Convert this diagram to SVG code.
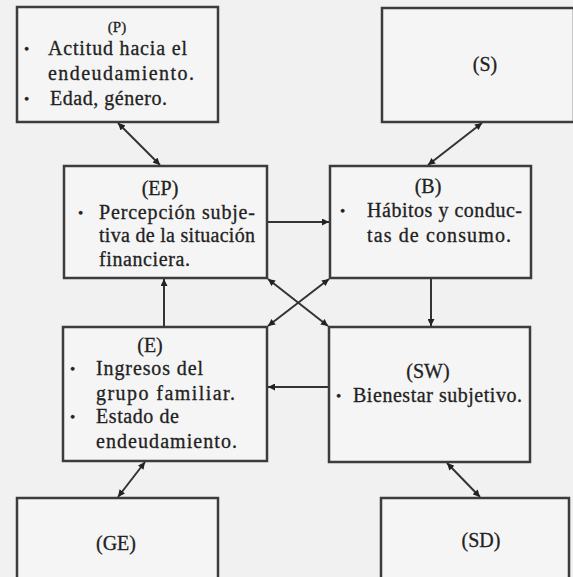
<svg xmlns="http://www.w3.org/2000/svg" width="573" height="577" viewBox="0 0 573 577">
<style>
.box{fill:#f5f5f5;stroke:#3c3c3c;stroke-width:2.5}
.t{font-family:"Liberation Serif","Times New Roman",serif;font-size:20px;fill:#222;stroke:#222;stroke-width:0.3}
.c{text-anchor:middle}
.sm{font-size:15px}
.bu{font-size:15px}
.ln{stroke:#333;stroke-width:2;fill:none}
</style>
<defs>
<marker id="ah" viewBox="0 0 10 10" refX="10" refY="5" markerWidth="8" markerHeight="7" markerUnits="userSpaceOnUse" orient="auto-start-reverse">
<path d="M0,0 L10,5 L0,10 z" fill="#222"/>
</marker>
</defs>
<rect width="573" height="577" fill="#f1f1f1"/>
<g id="connectors">
<line class="ln" x1="118" y1="123" x2="160" y2="165" marker-start="url(#ah)" marker-end="url(#ah)"/>
<line class="ln" x1="482" y1="123" x2="428" y2="165" marker-start="url(#ah)" marker-end="url(#ah)"/>
<line class="ln" x1="267" y1="222" x2="329" y2="222" marker-end="url(#ah)"/>
<line class="ln" x1="431" y1="278" x2="431" y2="326" marker-end="url(#ah)"/>
<line class="ln" x1="164" y1="327" x2="164" y2="279" marker-end="url(#ah)"/>
<line class="ln" x1="329" y1="387" x2="268" y2="387" marker-end="url(#ah)"/>
<line class="ln" x1="268" y1="279" x2="328" y2="326" marker-start="url(#ah)" marker-end="url(#ah)"/>
<line class="ln" x1="329" y1="279" x2="268" y2="326" marker-start="url(#ah)" marker-end="url(#ah)"/>
<line class="ln" x1="145" y1="462" x2="118" y2="497" marker-start="url(#ah)" marker-end="url(#ah)"/>
<line class="ln" x1="447" y1="463" x2="480" y2="497" marker-start="url(#ah)" marker-end="url(#ah)"/>
</g>
<g id="P">
<rect class="box" x="17" y="7" width="201" height="115"/>
<text class="t c sm" x="117" y="32">(P)</text>
<text class="t bu" x="24" y="54">•</text>
<text class="t" x="48" y="55" textLength="139" lengthAdjust="spacing">Actitud hacia el</text>
<text class="t" x="48" y="80" textLength="146" lengthAdjust="spacing">endeudamiento.</text>
<text class="t bu" x="24" y="104">•</text>
<text class="t" x="50" y="105" textLength="117" lengthAdjust="spacing">Edad, género.</text>
</g>
<g id="S">
<rect class="box" x="382" y="8" width="192" height="114"/>
<text class="t c" x="485" y="71">(S)</text>
</g>
<g id="EP">
<rect class="box" x="64" y="166" width="203" height="112"/>
<text class="t c" x="160" y="195">(EP)</text>
<text class="t bu" x="78" y="218">•</text>
<text class="t" x="99" y="219" textLength="156" lengthAdjust="spacing">Percepción subje-</text>
<text class="t" x="99" y="242" textLength="156" lengthAdjust="spacing">tiva de la situación</text>
<text class="t" x="99" y="266" textLength="91" lengthAdjust="spacing">financiera.</text>
</g>
<g id="B">
<rect class="box" x="330" y="166" width="201" height="112"/>
<text class="t c" x="428" y="193">(B)</text>
<text class="t bu" x="340" y="216">•</text>
<text class="t" x="367" y="217" textLength="155" lengthAdjust="spacing">Hábitos y conduc-</text>
<text class="t" x="367" y="242" textLength="144" lengthAdjust="spacing">tas de consumo.</text>
</g>
<g id="E">
<rect class="box" x="63" y="327" width="204" height="134"/>
<text class="t c" x="150" y="352">(E)</text>
<text class="t bu" x="70" y="374">•</text>
<text class="t" x="96" y="375" textLength="107" lengthAdjust="spacing">Ingresos del</text>
<text class="t" x="96" y="400" textLength="139" lengthAdjust="spacing">grupo familiar.</text>
<text class="t bu" x="70" y="422">•</text>
<text class="t" x="96" y="423" textLength="83" lengthAdjust="spacing">Estado de</text>
<text class="t" x="96" y="448" textLength="141" lengthAdjust="spacing">endeudamiento.</text>
</g>
<g id="SW">
<rect class="box" x="329" y="327" width="201" height="135"/>
<text class="t c" x="428" y="378">(SW)</text>
<text class="t bu" x="336" y="401">•</text>
<text class="t" x="353" y="402" textLength="169" lengthAdjust="spacing">Bienestar subjetivo.</text>
</g>
<g id="GE">
<rect class="box" x="17" y="498" width="201" height="90"/>
<text class="t c" x="116" y="550">(GE)</text>
</g>
<g id="SD">
<rect class="box" x="381" y="498" width="188" height="90"/>
<text class="t c" x="481" y="547">(SD)</text>
</g>
</svg>
